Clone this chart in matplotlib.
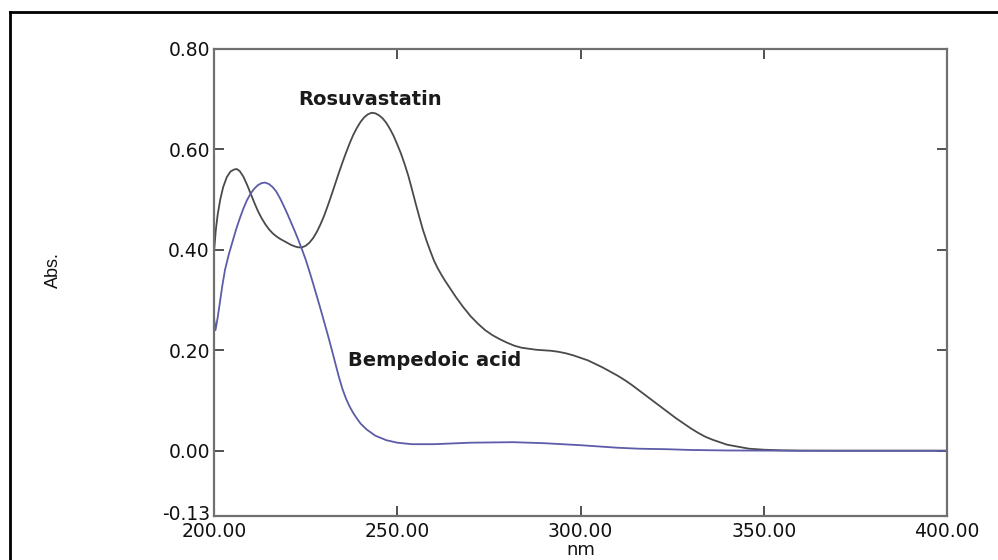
import matplotlib
matplotlib.use("Agg")
import matplotlib.pyplot as plt
from matplotlib.lines import Line2D
from matplotlib.transforms import ScaledTranslation

# Rosuvastatin spectrum (wavelength nm, absorbance)
rosu_nm = [200.0, 200.5, 201.0, 201.7, 202.5, 203.5, 204.5, 205.5, 206.2, 207.0,
           208.0, 209.0, 210.0, 211.0, 212.0, 213.0, 214.0, 215.0, 216.0, 217.0,
           218.0, 219.0, 220.0, 221.0, 222.0, 223.0, 224.0, 225.0, 226.0, 227.0,
           228.0, 229.0, 230.0, 231.0, 232.0, 233.0, 234.0, 235.0, 236.0, 237.0,
           238.0, 239.0, 240.0, 241.0, 242.0, 243.0, 244.0, 245.0, 246.0, 247.0,
           248.0, 249.0, 250.0, 251.0, 252.0, 253.0, 254.0, 255.0, 256.0, 257.0,
           258.0, 259.0, 260.0, 261.0, 262.0, 263.0, 264.0, 265.0, 266.0, 268.0,
           270.0, 272.0, 274.0, 276.0, 278.0, 280.0, 282.0, 284.0, 286.0, 288.0,
           290.0, 292.0, 294.0, 296.0, 298.0, 300.0, 302.0, 304.0, 306.0, 308.0,
           310.0, 312.0, 314.0, 316.0, 318.0, 320.0, 322.0, 324.0, 326.0, 328.0,
           330.0, 332.0, 334.0, 336.0, 338.0, 340.0, 343.0, 346.0, 350.0, 355.0,
           360.0, 370.0, 400.0]
rosu_abs = [0.395, 0.440, 0.470, 0.500, 0.525, 0.545, 0.556, 0.560, 0.561, 0.557,
            0.546, 0.530, 0.512, 0.494, 0.477, 0.463, 0.451, 0.441, 0.433, 0.427,
            0.422, 0.418, 0.414, 0.410, 0.407, 0.405, 0.405, 0.408, 0.414, 0.423,
            0.435, 0.450, 0.467, 0.487, 0.508, 0.530, 0.552, 0.573, 0.593, 0.612,
            0.629, 0.643, 0.655, 0.664, 0.670, 0.673, 0.672, 0.668, 0.662, 0.653,
            0.641, 0.627, 0.610, 0.592, 0.571, 0.548, 0.521, 0.493, 0.466, 0.440,
            0.418, 0.398, 0.379, 0.364, 0.351, 0.339, 0.328, 0.317, 0.306, 0.286,
            0.268, 0.253, 0.240, 0.230, 0.222, 0.215, 0.209, 0.205, 0.203, 0.201,
            0.200, 0.199, 0.197, 0.194, 0.190, 0.185, 0.180, 0.173, 0.166, 0.158,
            0.150, 0.141, 0.131, 0.120, 0.109, 0.098, 0.087, 0.076, 0.065, 0.055,
            0.045, 0.036, 0.028, 0.022, 0.017, 0.012, 0.008, 0.004, 0.002, 0.0007,
            0.0002, 0.0, 0.0]

# Bempedoic acid spectrum
bemp_nm = [200.0, 200.4, 201.0, 201.6, 202.3, 203.0, 204.0, 205.0, 206.0, 207.0,
           208.0, 209.0, 210.0, 211.0, 212.0, 213.0, 214.0, 215.0, 216.0, 217.0,
           218.0, 219.0, 220.0, 221.0, 222.0, 223.0, 224.0, 225.0, 226.0, 227.0,
           228.0, 229.0, 230.0, 231.0, 232.0, 233.0, 234.0, 235.0, 236.0, 237.0,
           238.0, 239.0, 240.0, 241.7, 244.0, 247.0, 250.0, 254.0, 260.0, 270.0,
           281.6, 290.0, 300.0, 310.0, 316.0, 323.5, 330.0, 340.0, 360.0, 400.0]
bemp_abs = [0.265, 0.240, 0.265, 0.295, 0.330, 0.360, 0.390, 0.415, 0.440, 0.462,
            0.482, 0.499, 0.512, 0.522, 0.529, 0.533, 0.534, 0.531, 0.525, 0.516,
            0.503, 0.488, 0.472, 0.455, 0.438, 0.420, 0.401, 0.381, 0.358, 0.334,
            0.309, 0.284, 0.258, 0.232, 0.205, 0.177, 0.149, 0.124, 0.104, 0.088,
            0.075, 0.064, 0.054, 0.042, 0.030, 0.021, 0.016, 0.013, 0.013, 0.016,
            0.017, 0.015, 0.011, 0.006, 0.004, 0.003, 0.0015, 0.0005, 0.0, 0.0]

y_ticks = [-0.13, 0.0, 0.2, 0.4, 0.6, 0.8]
y_tick_labels = ["-0.13", "0.00", "0.20", "0.40", "0.60", "0.80"]
x_ticks = [200, 250, 300, 350, 400]
x_tick_labels = ["200.00", "250.00", "300.00", "350.00", "400.00"]

plt.rcParams['font.family'] = ['DejaVu Sans']

fig = plt.figure(figsize=(9.98, 5.6), dpi=100)
ax = fig.add_axes([214/998, 1 - 516/560, (947-214)/998, (516-49)/560])

ax.plot(rosu_nm, rosu_abs, color="#4a4a4a", lw=1.3)
ax.plot(bemp_nm, bemp_abs, color="#5c5ca8", lw=1.3)

ax.set_xlim(200, 400)
ax.set_ylim(-0.13, 0.80)
ax.set_xticks(x_ticks)
ax.set_xticklabels(x_tick_labels)
ax.set_yticks(y_ticks)
ax.set_yticklabels(y_tick_labels)

ax.tick_params(axis='both', direction='in', length=7, width=1.2, color='#333333',
               labelsize=13.5, labelcolor='#111111')
ax.tick_params(axis='y', pad=3, right=True)
ax.tick_params(axis='x', pad=4, top=True)

# lift the bottom y label a little so it clears the x labels
lab = ax.get_yticklabels()[0]
lab.set_transform(lab.get_transform() + ScaledTranslation(0, 4/100, fig.dpi_scale_trans))

for s in ax.spines.values():
    s.set_color('#707070')
    s.set_linewidth(1.6)

ax.set_xlabel("nm", fontsize=13, labelpad=0, color='#111111')
ax.set_ylabel("Abs.", fontsize=13, family='Liberation Sans', color='#111111')
ax.yaxis.set_label_coords(-(214-62)/733, (516-270)/467)

ax.text(222.9, 0.70, "Rosuvastatin", fontsize=14, fontweight='bold',
        color='#1a1a1a', ha='left', va='center')
ax.text(236.6, 0.179, "Bempedoic acid", fontsize=14, fontweight='bold',
        color='#1a1a1a', ha='left', va='center')

# outer frame
fig.add_artist(Line2D([10/998, 10/998], [0, 1 - 12/560], transform=fig.transFigure,
                      color='black', lw=2.0))
fig.add_artist(Line2D([10/998, 1.0], [1 - 12/560, 1 - 12/560], transform=fig.transFigure,
                      color='black', lw=2.0))

fig.savefig("out.png", dpi=100)
